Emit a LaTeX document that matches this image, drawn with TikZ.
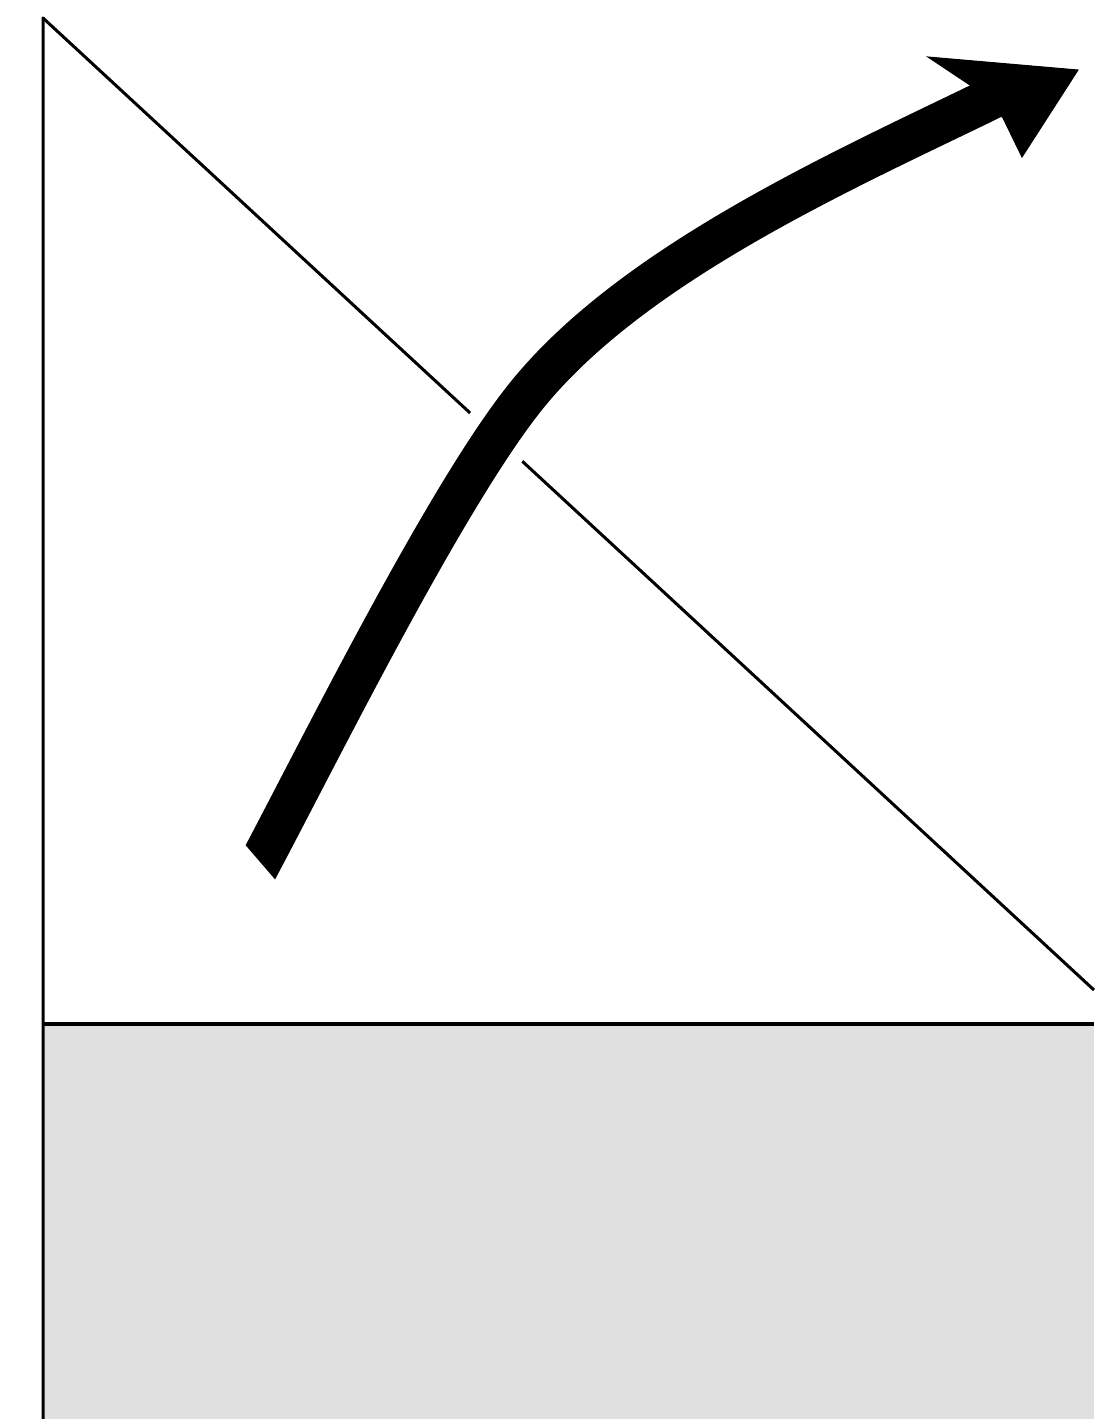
\documentclass[tikz,border=0pt]{standalone}
\usetikzlibrary{arrows.meta,calc}
\definecolor{groundgray}{HTML}{E0E0E0}
\begin{document}
\begin{tikzpicture}[x=0.5pt,y=-0.5pt,
  thinline/.style={black,line width=1.5pt},
  shaft/.style={black,line width=21pt,line cap=butt},
  halo/.style={white,line width=35pt,line cap=butt},
  head/.style={fill=black,draw=black,line width=0.5pt,line join=miter}]
\useasboundingbox[fill=white] (0,0) rectangle (1094,1419);
\coordinate (top) at (43,18);
\coordinate (bottom) at (43,1419);
\coordinate (ground) at (43,1024);
\coordinate (groundR) at (1094,1024);
\coordinate (diagEnd) at (1094,990);
\coordinate (s0) at (243,895);
\coordinate (s) at (260,863);
\coordinate (j) at (523,400);
\coordinate (m) at (986,101);
\coordinate (e) at (1008,90);
\coordinate (tip) at (1078,70);
\coordinate (barbA) at (928,57);
\coordinate (barbB) at (1022,157);
\coordinate (notchA) at (970,85);
\coordinate (notchB) at (1003,118);
\coordinate (capA) at (248,848);
\coordinate (capB) at (273,877);
\fill[groundgray] (ground) rectangle (1094,1419);
\draw[thinline,line width=1.7pt] (ground) -- (groundR);
\draw[thinline] (top) -- (diagEnd);
\draw[thinline,line join=round] (bottom) -- (top) -- ++(1,0.925);
\draw[halo] (s) .. controls (321,748) and (443,502) .. (j) .. controls (628,266) and (842,171) .. (m);
\begin{scope}
  \clip ($(capA)!-8!(capB)$) -- ($(capA)!9!(capB)$) -- (1094,1167) -- (1094,0) -- (0,0) -- cycle;
  \draw[shaft] (s0) -- (s) .. controls (321,748) and (443,502) .. (j) .. controls (628,266) and (842,171) .. (m) -- (e);
\end{scope}
\filldraw[head] (notchA) -- (barbA) -- (tip) -- (barbB) -- (notchB) -- cycle;
\end{tikzpicture}
\end{document}
